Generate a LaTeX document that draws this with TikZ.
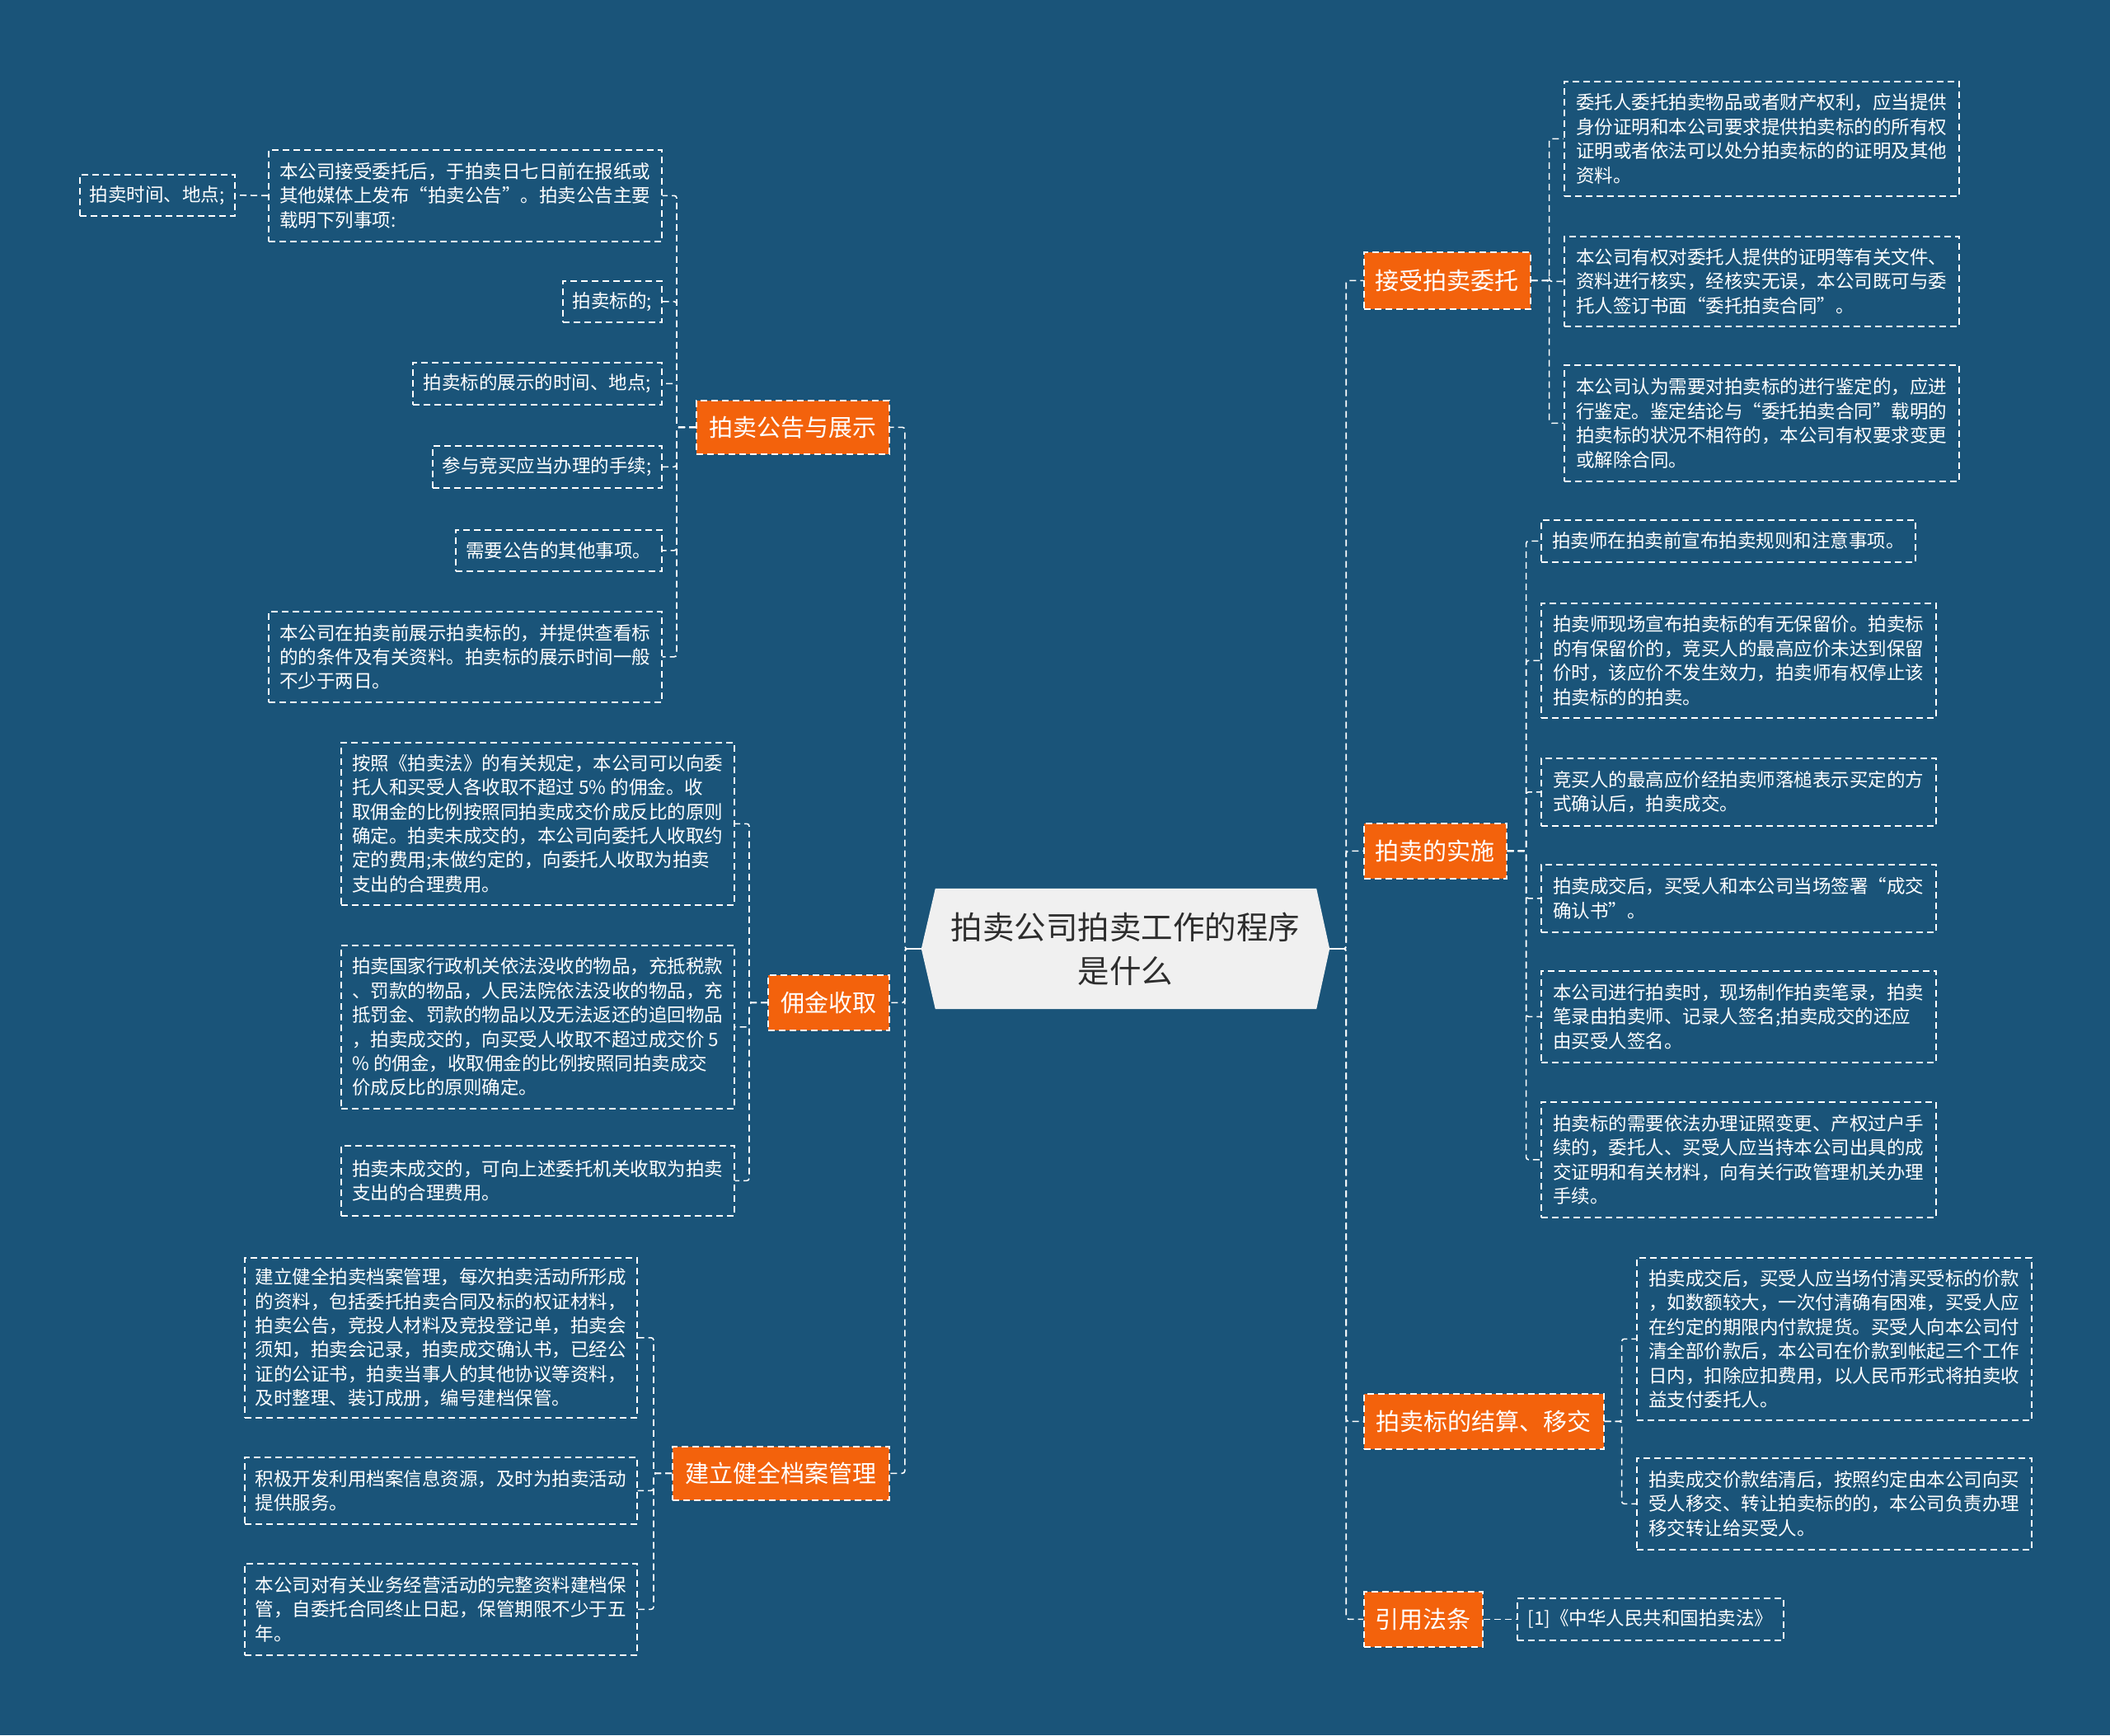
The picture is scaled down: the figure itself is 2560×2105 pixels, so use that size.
\documentclass[tikz,border=0pt]{standalone}
\usepackage{fontspec}
\setmainfont{Noto Sans CJK SC}
\usetikzlibrary{calc}
\definecolor{bg}{RGB}{26,84,121}
\definecolor{org}{RGB}{243,98,12}
\definecolor{ctr}{RGB}{240,240,240}
\definecolor{ctxt}{RGB}{45,45,45}
\begin{document}
\begin{tikzpicture}[x=1pt,y=-1pt,
  leaf/.style={draw=white, dash pattern=on 8pt off 5pt, line width=1.6pt, text=white,
    font=\fontsize{22.5}{29.4}\selectfont, align=left, anchor=north west, inner sep=0pt},
  topic/.style={fill=org, draw=white, dash pattern=on 8pt off 5pt, line width=1.6pt, text=white,
    font=\fontsize{29}{35}\selectfont, anchor=north west, inner sep=0pt},
  conn/.style={white, line width=1.6pt, dash pattern=on 8pt off 5pt, rounded corners=3pt},
  stub/.style={white, line width=2.2pt},
  ctrtext/.style={text=ctxt, minimum width=495, minimum height=146, inner sep=0pt, align=center,
    font=\fontsize{38.5}{53}\selectfont}]
\fill[bg] (0,0) rectangle (2560,2105);
\useasboundingbox (0,0) rectangle (2560,2105);

% centre
\node[ctrtext] (c) at (1365.5,1151) {拍卖公司拍卖工作的程序\\是什么};
\fill[ctr] (c.west) -- ($(c.north west)+(17,0)$) -- ($(c.north east)+(-16,0)$) -- (c.east)
  -- ($(c.south east)+(-16,0)$) -- ($(c.south west)+(17,0)$) -- cycle;
\node[ctrtext] at (c.center) {拍卖公司拍卖工作的程序\\是什么};

% level 1 topics
\node[topic, minimum width=234, minimum height=65] (L1) at (844,485) {拍卖公告与展示};
\node[topic, minimum width=147, minimum height=67] (L2) at (931,1182) {佣金收取};
\node[topic, minimum width=263, minimum height=65] (L3) at (815,1754) {建立健全档案管理};
\node[topic, minimum width=202, minimum height=69] (R1) at (1654,305) {接受拍卖委托};
\node[topic, minimum width=173, minimum height=67] (R2) at (1654,998) {拍卖的实施};
\node[topic, minimum width=291, minimum height=67] (R3) at (1654,1690) {拍卖标的结算、移交};
\node[topic, minimum width=144, minimum height=67] (R4) at (1654,1930) {引用法条};

% left group 1
\node[leaf, minimum width=188, minimum height=50] (A0) at (96,211) {拍卖时间、地点;};
\node[leaf, minimum width=477, minimum height=111] (A1) at (325,181) {本公司接受委托后，于拍卖日七日前在报纸或\\其他媒体上发布“拍卖公告”。拍卖公告主要\\载明下列事项:};
\node[leaf, minimum width=120, minimum height=50] (A2) at (682,340) {拍卖标的;};
\node[leaf, minimum width=302, minimum height=51] (A3) at (500,439) {拍卖标的展示的时间、地点;};
\node[leaf, minimum width=278, minimum height=51] (A4) at (524,540) {参与竞买应当办理的手续;};
\node[leaf, minimum width=250, minimum height=50] (A5) at (552,642) {需要公告的其他事项。};
\node[leaf, minimum width=477, minimum height=110] (A6) at (325,741) {本公司在拍卖前展示拍卖标的，并提供查看标\\的的条件及有关资料。拍卖标的展示时间一般\\不少于两日。};

% left group 2
\node[leaf, minimum width=477, minimum height=197] (B1) at (413,900) {按照《拍卖法》的有关规定，本公司可以向委\\托人和买受人各收取不超过 5\% 的佣金。收\\取佣金的比例按照同拍卖成交价成反比的原则\\确定。拍卖未成交的，本公司向委托人收取约\\定的费用;未做约定的，向委托人收取为拍卖\\支出的合理费用。};
\node[leaf, minimum width=477, minimum height=198] (B2) at (413,1146) {拍卖国家行政机关依法没收的物品，充抵税款\\、罚款的物品，人民法院依法没收的物品，充\\抵罚金、罚款的物品以及无法返还的追回物品\\，拍卖成交的，向买受人收取不超过成交价 5\\\% 的佣金，收取佣金的比例按照同拍卖成交\\价成反比的原则确定。};
\node[leaf, minimum width=477, minimum height=85] (B3) at (413,1389) {拍卖未成交的，可向上述委托机关收取为拍卖\\支出的合理费用。};

% left group 3
\node[leaf, minimum width=476, minimum height=194] (C1) at (296,1525) {建立健全拍卖档案管理，每次拍卖活动所形成\\的资料，包括委托拍卖合同及标的权证材料，\\拍卖公告，竞投人材料及竞投登记单，拍卖会\\须知，拍卖会记录，拍卖成交确认书，已经公\\证的公证书，拍卖当事人的其他协议等资料，\\及时整理、装订成册，编号建档保管。};
\node[leaf, minimum width=476, minimum height=81] (C2) at (296,1767) {积极开发利用档案信息资源，及时为拍卖活动\\提供服务。};
\node[leaf, minimum width=476, minimum height=111] (C3) at (296,1896) {本公司对有关业务经营活动的完整资料建档保\\管，自委托合同终止日起，保管期限不少于五\\年。};

% right group 1
\node[leaf, minimum width=479, minimum height=139] (D1) at (1897,98) {委托人委托拍卖物品或者财产权利，应当提供\\身份证明和本公司要求提供拍卖标的的所有权\\证明或者依法可以处分拍卖标的的证明及其他\\资料。};
\node[leaf, minimum width=479, minimum height=109] (D2) at (1897,286) {本公司有权对委托人提供的证明等有关文件、\\资料进行核实，经核实无误，本公司既可与委\\托人签订书面“委托拍卖合同”。};
\node[leaf, minimum width=479, minimum height=141] (D3) at (1897,442) {本公司认为需要对拍卖标的进行鉴定的，应进\\行鉴定。鉴定结论与“委托拍卖合同”载明的\\拍卖标的状况不相符的，本公司有权要求变更\\或解除合同。};

% right group 2
\node[leaf, minimum width=454, minimum height=51] (E1) at (1869,630) {拍卖师在拍卖前宣布拍卖规则和注意事项。};
\node[leaf, minimum width=479, minimum height=139] (E2) at (1869,731) {拍卖师现场宣布拍卖标的有无保留价。拍卖标\\的有保留价的，竞买人的最高应价未达到保留\\价时，该应价不发生效力，拍卖师有权停止该\\拍卖标的的拍卖。};
\node[leaf, minimum width=479, minimum height=82] (E3) at (1869,919) {竞买人的最高应价经拍卖师落槌表示买定的方\\式确认后，拍卖成交。};
\node[leaf, minimum width=479, minimum height=82] (E4) at (1869,1048) {拍卖成交后，买受人和本公司当场签署“成交\\确认书”。};
\node[leaf, minimum width=479, minimum height=111] (E5) at (1869,1177) {本公司进行拍卖时，现场制作拍卖笔录，拍卖\\笔录由拍卖师、记录人签名;拍卖成交的还应\\由买受人签名。};
\node[leaf, minimum width=479, minimum height=140] (E6) at (1869,1336) {拍卖标的需要依法办理证照变更、产权过户手\\续的，委托人、买受人应当持本公司出具的成\\交证明和有关材料，向有关行政管理机关办理\\手续。};

% right group 3
\node[leaf, minimum width=479, minimum height=197] (F1) at (1985,1525) {拍卖成交后，买受人应当场付清买受标的价款\\，如数额较大，一次付清确有困难，买受人应\\在约定的期限内付款提货。买受人向本公司付\\清全部价款后，本公司在价款到帐起三个工作\\日内，扣除应扣费用，以人民币形式将拍卖收\\益支付委托人。};
\node[leaf, minimum width=479, minimum height=111] (F2) at (1985,1768) {拍卖成交价款结清后，按照约定由本公司向买\\受人移交、转让拍卖标的的，本公司负责办理\\移交转让给买受人。};

% right group 4
\node[leaf, minimum width=323, minimum height=51] (G1) at (1840,1938) {[1]《中华人民共和国拍卖法》};

% connectors: centre to topics
\foreach \t in {L1,L2,L3} \draw[conn] (c.west) -- ++(-20,0) |- (\t.east);
\foreach \t in {R1,R2,R3,R4} \draw[conn] (c.east) -- ++(20,0) |- (\t.west);
\draw[stub] (c.west) -- ++(-20,0);
\draw[stub] (c.east) -- ++(20,0);

% topics to leaves
\foreach \t in {A1,A2,A3,A4,A5,A6} \draw[conn] (L1.west) -- ++(-23,0) |- (\t.east);
\draw[conn] (A1.west) -- (A0.east);
\foreach \t in {B1,B2,B3} \draw[conn] (L2.west) -- ++(-22,0) |- (\t.east);
\foreach \t in {C1,C2,C3} \draw[conn] (L3.west) -- ++(-22,0) |- (\t.east);
\foreach \t in {D1,D2,D3} \draw[conn] (R1.east) -- ++(22,0) |- (\t.west);
\foreach \t in {E1,E2,E3,E4,E5,E6} \draw[conn] (R2.east) -- ++(23,0) |- (\t.west);
\foreach \t in {F1,F2} \draw[conn] (R3.east) -- ++(21,0) |- (\t.west);
\draw[conn] (R4.east) -- (G1.west);
\end{tikzpicture}
\end{document}
